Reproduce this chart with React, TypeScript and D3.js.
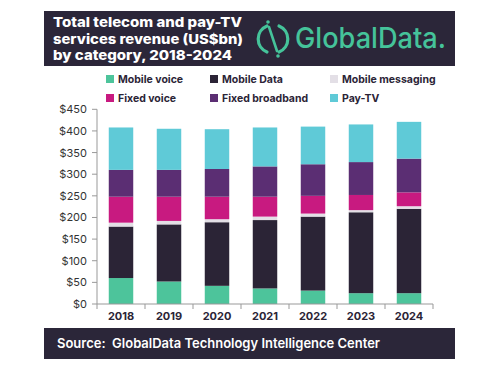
import * as React from 'react';
import { scaleBand, scaleLinear, stack } from 'd3';

const years = ['2018', '2019', '2020', '2021', '2022', '2023', '2024'];
const mobileVoice = [60, 52, 42, 36, 31, 25, 25];
const mobileData = [119, 132, 147, 158, 171, 187, 195];
const mobileMessaging = [9, 8, 7, 8, 7, 5, 6];
const fixedVoice = [60, 56, 52, 46, 41, 35, 32];
const fixedBroadband = [62, 62, 64, 70, 73, 76, 78];
const payTV = [98, 95, 92, 90, 87, 87, 85];
const yTicks = [0, 50, 100, 150, 200, 250, 300, 350, 400, 450];

const seriesNames = ['Mobile voice', 'Mobile Data', 'Mobile messaging', 'Fixed voice', 'Fixed broadband', 'Pay-TV'];
const seriesValues = [mobileVoice, mobileData, mobileMessaging, fixedVoice, fixedBroadband, payTV];
const seriesColors = ['#4dc49b', '#2b2436', '#e3dfe6', '#c81a80', '#5b2e73', '#5fcad7'];

const titleLines = ['Total telecom and pay-TV', 'services revenue (US$bn)', 'by category, 2018-2024'];
const titleWidths = [189, 190, 179];

const NAVY = '#2b2639';
const GREEN = '#45c39a';
const FONT = 'Inter, "Open Sans", sans-serif';

type Row = { year: string; [k: string]: number | string };

function Logo({ x, y }: { x: number; y: number }) {
  // icon: broken ring with a slash, then the word mark
  return (
    <g transform={`translate(${x},${y})`} fill="none" stroke={GREEN} strokeWidth={3.2} strokeLinecap="round">
      <path d="M -6 -13 A 14 14 0 0 0 -6 13" />
      <path d="M 6 -13 A 14 14 0 0 1 6 13" />
      <line x1={-4} y1={-12} x2={4} y2={12} strokeWidth={2.6} />
      <circle cx={-5} cy={-17} r={1.8} fill={GREEN} stroke="none" />
      <circle cx={5} cy={17} r={1.8} fill={GREEN} stroke="none" />
      <text x={22} y={9} fill={GREEN} stroke="none" fontSize={29} fontWeight={500}
        textLength={151} lengthAdjust="spacingAndGlyphs">
        GlobalData.
      </text>
    </g>
  );
}

export default function App() {
  const rows: Row[] = years.map((year, i) => {
    const r: Row = { year };
    seriesNames.forEach((n, s) => { r[n] = seriesValues[s][i]; });
    return r;
  });
  const stacked = stack<Row>().keys(seriesNames)(rows);

  const x = scaleBand<string>().domain(years).range([97, 433]).paddingInner(0.49).paddingOuter(0.245);
  const y = scaleLinear().domain([0, 450]).range([304, 109.3]);

  const boundaries = years.map((_, i) => x.range()[0] + i * x.step()).concat([x.range()[1]]);

  const legendCols = [106, 210, 330];
  const legendRows = [79, 98];

  return (
    <svg width={500} height={373} style={{ position: 'fixed', left: 0, top: 0, background: '#fff' }} fontFamily={FONT}>
      <rect x={44} y={11} width={411} height={55} fill={NAVY} />
      <text fill="#fff" fontSize={13.5} fontWeight={800}>
        {titleLines.map((l, i) => (
          <tspan key={i} x={53} y={27 + i * 16.5} textLength={titleWidths[i]} lengthAdjust="spacingAndGlyphs">{l}</tspan>
        ))}
      </text>
      <Logo x={273} y={39} />

      {seriesNames.map((n, i) => {
        const lx = legendCols[i % 3];
        const ly = legendRows[Math.floor(i / 3)];
        return (
          <g key={n}>
            <rect x={lx} y={ly - 4} width={8} height={8} fill={seriesColors[i]} />
            <text x={lx + 12} y={ly + 4} fontSize={10.5} fontWeight={700} fill="#2b2436">{n}</text>
          </g>
        );
      })}

      {stacked.map((layer, s) => (
        <g key={layer.key} fill={seriesColors[s]}>
          {layer.map((d, i) => (
            <rect key={i} x={x(years[i])} width={x.bandwidth()} y={y(d[1])} height={y(d[0]) - y(d[1])} />
          ))}
        </g>
      ))}

      <line x1={97} x2={97} y1={y(450)} y2={y(0)} stroke="#999" strokeWidth={1} />
      <line x1={97} x2={433} y1={y(0)} y2={y(0)} stroke="#999" strokeWidth={1} />
      {yTicks.map(t => (
        <g key={t}>
          <line x1={92} x2={97} y1={y(t)} y2={y(t)} stroke="#999" />
          <text x={87} y={y(t) + 4} textAnchor="end" fontSize={11} fill="#333">${t}</text>
        </g>
      ))}
      {boundaries.map((b, i) => (
        <line key={i} x1={b} x2={b} y1={y(0)} y2={y(0) + 5} stroke="#999" />
      ))}
      {years.map(yr => (
        <text key={yr} x={(x(yr) ?? 0) + x.bandwidth() / 2} y={320} textAnchor="middle" fontSize={11} fontWeight={700} fill="#2b2436">{yr}</text>
      ))}

      <rect x={44} y={328} width={411} height={31} fill={NAVY} />
      <text x={57} y={348} fill="#fff" fontSize={13.5} fontWeight={600} style={{ whiteSpace: 'pre' }}
        textLength={323} lengthAdjust="spacingAndGlyphs">Source:  GlobalData Technology Intelligence Center</text>
    </svg>
  );
}
